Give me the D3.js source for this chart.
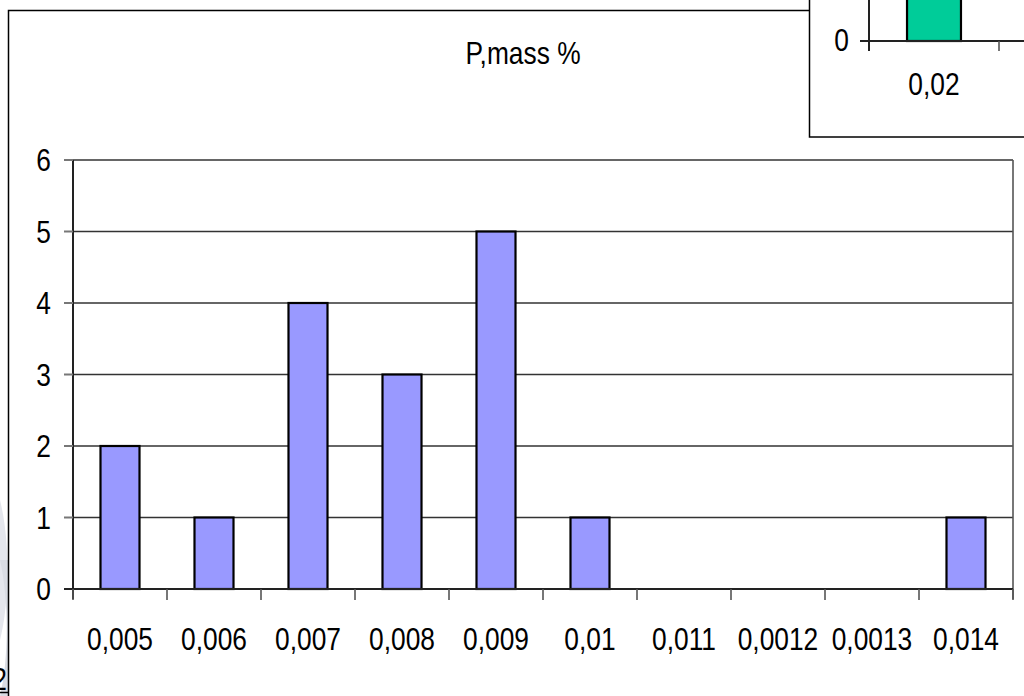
<!DOCTYPE html>
<html lang="en">
<head>
    <meta charset="UTF-8">
    <title>P,mass %</title>
    <script src="https://cdn.jsdelivr.net/npm/d3@7"></script>
    <style>
        body { margin: 0; background: #fff; }
        svg { display: block; }
    </style>
</head>
<body>
<svg></svg>
<script>
    // main chart data
    const categories = ["0,005", "0,006", "0,007", "0,008", "0,009", "0,01", "0,011", "0,0012", "0,0013", "0,014"];
    const counts = [2, 1, 4, 3, 5, 1, 0, 0, 0, 1];
    const yTicks = [0, 1, 2, 3, 4, 5, 6];

    // partly visible neighbour chart (top right)
    const insetCategories = ["0,02", ""];
    const insetCounts = [1, 0];

    const width = 1024, height = 696;
    const font = "'Liberation Sans', Arial, sans-serif";
    const fs = 31, squeeze = 0.85;

    const svg = d3.select("svg")
        .attr("width", width)
        .attr("height", height)
        .style("font-family", font);

    svg.append("rect").attr("width", width).attr("height", height).attr("fill", "#fff");

    // faint background graphic peeking in at bottom left
    svg.append("path")
        .attr("d", "M0,500 C10,540 10,600 0,640 Z")
        .attr("fill", "#e4e6ec");
    svg.append("path")
        .attr("d", "M0,560 C9,600 9,660 0,696 L8,696 L8,560 Z")
        .attr("fill", "#d9dce3");

    function label(g, x, y, txt, anchor) {
        return g.append("text")
            .attr("transform", `translate(${x},${y}) scale(${squeeze},1)`)
            .attr("text-anchor", anchor || "middle")
            .attr("font-size", fs)
            .attr("fill", "#000")
            .text(txt);
    }

    // outer chart frame
    svg.append("path")
        .attr("d", "M8.5,700 L8.5,10.5 L809,10.5")
        .attr("fill", "none")
        .attr("stroke", "#000")
        .attr("stroke-width", 1.5);

    // main plot
    const plot = {left: 73, right: 1013, top: 160, bottom: 589};

    const x = d3.scaleBand()
        .domain(categories)
        .range([plot.left, plot.right])
        .padding(0);

    const y = d3.scaleLinear()
        .domain([0, 6])
        .range([plot.bottom, plot.top]);

    const barW = x.bandwidth() * 0.415;

    // gridlines
    svg.append("g")
        .selectAll("line")
        .data(yTicks.filter(d => d > 0))
        .join("line")
        .attr("x1", plot.left)
        .attr("x2", plot.right)
        .attr("y1", d => y(d))
        .attr("y2", d => y(d))
        .attr("stroke", "#333")
        .attr("stroke-width", 1.5);

    // right border of plot area
    svg.append("line")
        .attr("x1", plot.right).attr("x2", plot.right)
        .attr("y1", plot.top).attr("y2", plot.bottom + 10)
        .attr("stroke", "#555")
        .attr("stroke-width", 1.6);

    // bars
    svg.append("g")
        .selectAll("rect")
        .data(categories.map((c, i) => ({c, v: counts[i]})).filter(d => d.v > 0))
        .join("rect")
        .attr("x", d => x(d.c) + (x.bandwidth() - barW) / 2)
        .attr("y", d => y(d.v))
        .attr("width", barW)
        .attr("height", d => y(0) - y(d.v))
        .attr("fill", "#9999ff")
        .attr("stroke", "#000")
        .attr("stroke-width", 2.2);

    // y axis
    const yAxis = svg.append("g");
    yAxis.append("line")
        .attr("x1", plot.left).attr("x2", plot.left)
        .attr("y1", plot.top).attr("y2", plot.bottom + 10)
        .attr("stroke", "#222").attr("stroke-width", 2);
    yAxis.selectAll("line.tick")
        .data(yTicks)
        .join("line")
        .attr("class", "tick")
        .attr("x1", plot.left - 9).attr("x2", plot.left)
        .attr("y1", d => y(d)).attr("y2", d => y(d))
        .attr("stroke", "#777").attr("stroke-width", 2);
    yTicks.forEach(d => label(yAxis, 51, y(d) + 11, d, "end"));

    // x axis
    const xAxis = svg.append("g");
    xAxis.append("line")
        .attr("x1", plot.left - 9).attr("x2", plot.right)
        .attr("y1", plot.bottom).attr("y2", plot.bottom)
        .attr("stroke", "#222").attr("stroke-width", 2);
    const bounds = categories.map(c => x(c)).concat([plot.right]);
    xAxis.selectAll("line.tick")
        .data(bounds)
        .join("line")
        .attr("class", "tick")
        .attr("x1", d => d).attr("x2", d => d)
        .attr("y1", plot.bottom).attr("y2", plot.bottom + 11)
        .attr("stroke", "#555").attr("stroke-width", 1.6);
    categories.forEach(c => label(xAxis, x(c) + x.bandwidth() / 2, 650, c));

    // title
    label(svg, 523, 64, "P,mass %");

    // inset chart in the top right corner
    const inset = svg.append("g");
    inset.append("rect")
        .attr("x", 809.5).attr("y", -10)
        .attr("width", 260).attr("height", 147)
        .attr("fill", "#fff")
        .attr("stroke", "#000").attr("stroke-width", 1.5);

    const ix = d3.scaleBand()
        .domain(insetCategories.map((d, i) => i))
        .range([869, 1129])
        .padding(0);
    const iy = d3.scaleLinear()
        .domain([0, 1])
        .range([41, -120]);
    const ibarW = ix.bandwidth() * 0.415;

    inset.selectAll("rect.bar")
        .data(insetCounts.map((v, i) => ({i, v})).filter(d => d.v > 0))
        .join("rect")
        .attr("class", "bar")
        .attr("x", d => ix(d.i) + (ix.bandwidth() - ibarW) / 2)
        .attr("y", d => iy(d.v))
        .attr("width", ibarW)
        .attr("height", d => iy(0) - iy(d.v))
        .attr("fill", "#00cc99")
        .attr("stroke", "#000").attr("stroke-width", 2.2);

    inset.append("line")
        .attr("x1", 869).attr("x2", 869)
        .attr("y1", -10).attr("y2", iy(0) + 10)
        .attr("stroke", "#222").attr("stroke-width", 2);
    inset.append("line")
        .attr("x1", 860).attr("x2", 1030)
        .attr("y1", iy(0)).attr("y2", iy(0))
        .attr("stroke", "#222").attr("stroke-width", 2);
    inset.selectAll("line.tick")
        .data([ix(1)])
        .join("line")
        .attr("class", "tick")
        .attr("x1", d => d).attr("x2", d => d)
        .attr("y1", iy(0)).attr("y2", iy(0) + 10)
        .attr("stroke", "#555").attr("stroke-width", 1.6);
    label(inset, 849, iy(0) + 10, 0, "end");
    label(inset, ix(0) + ix.bandwidth() / 2, 95, insetCategories[0]);

    // cut-off label at the bottom left edge
    label(svg, 7, 690, "2", "end");
    svg.append("line")
        .attr("x1", 0).attr("x2", 8)
        .attr("y1", 692.5).attr("y2", 692.5)
        .attr("stroke", "#000").attr("stroke-width", 1.5);
</script>
</body>
</html>
